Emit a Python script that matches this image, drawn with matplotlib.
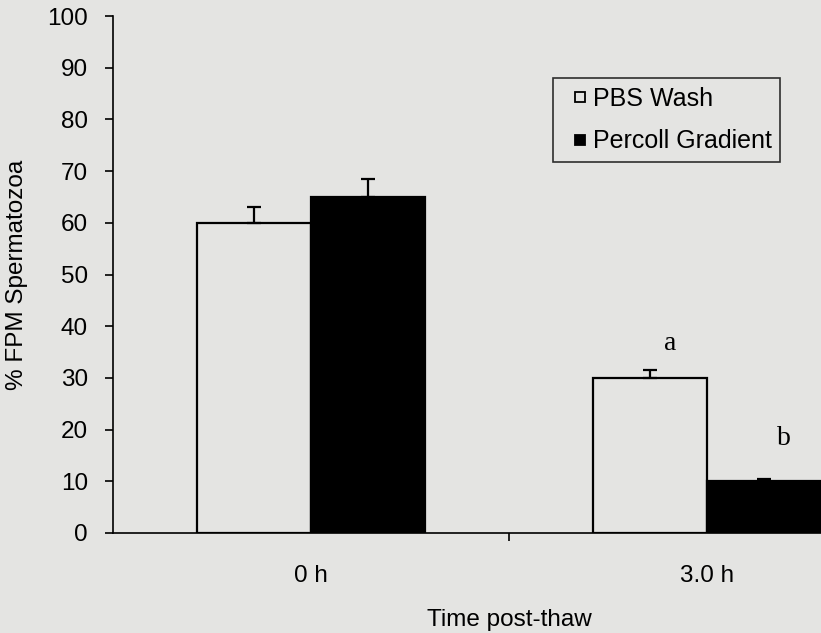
import matplotlib.pyplot as plt
from matplotlib.lines import Line2D
import numpy as np

# data
groups = ['0 h', '3.0 h']
series = ['PBS Wash', 'Percoll Gradient']
pbs_vals = [60, 30]
pbs_err = [3.0, 1.5]
percoll_vals = [65, 10]
percoll_err = [3.5, 0.5]
sig_labels = ['a', 'b']
y_ticks = [0, 10, 20, 30, 40, 50, 60, 70, 80, 90, 100]

bg = '#e4e4e2'
plt.rcParams['font.family'] = ['Liberation Sans', 'DejaVu Sans']

fig = plt.figure(figsize=(8.21, 6.33), dpi=100, facecolor=bg)
# axes runs past the right edge, the original figure is cropped there
ax = fig.add_axes([0.1376, 0.158, 0.9647, 0.8167], facecolor=bg)

x = np.arange(len(groups))
w = 0.288

ax.bar(x - w / 2, pbs_vals, w, color=bg, edgecolor='black', linewidth=1.6, zorder=2)
ax.bar(x + w / 2, percoll_vals, w, color='black', edgecolor='black', linewidth=1.6, zorder=2)

# upper error bars only
ax.errorbar(x - w / 2, pbs_vals, yerr=[np.zeros(2), pbs_err], fmt='none',
            ecolor='black', elinewidth=1.6, capsize=4.7, capthick=1.6, zorder=3)
ax.errorbar(x + w / 2, percoll_vals, yerr=[np.zeros(2), percoll_err], fmt='none',
            ecolor='black', elinewidth=1.6, capsize=4.7, capthick=1.6, zorder=3)

# significance letters over the 3.0 h bars
ax.text(x[1] - w / 2 + 0.05, pbs_vals[1] + 6.7, sig_labels[0], family='Liberation Serif',
        fontsize=20, ha='center', va='center')
ax.text(x[1] + w / 2 + 0.05, percoll_vals[1] + 8.2, sig_labels[1], family='Liberation Serif',
        fontsize=20, ha='center', va='center')

ax.set_xlim(-0.5, 1.5)
ax.set_ylim(0, 100)
ax.set_yticks(y_ticks)
ax.set_xticks(x)
ax.set_xticklabels(groups)
ax.set_xticks([0.5, 1.5], minor=True)

ax.tick_params(axis='y', direction='out', length=6, width=1.2, labelsize=17.5, pad=12)
ax.tick_params(axis='x', which='major', length=0, labelsize=17.5, pad=23)
ax.tick_params(axis='x', which='minor', direction='out', length=6, width=1.2)

ax.set_xlabel('Time post-thaw', fontsize=17.5, labelpad=16)
ax.set_ylabel('% FPM Spermatozoa', fontsize=17.5, labelpad=14)

for s in ['top', 'right']:
    ax.spines[s].set_visible(False)
for s in ['left', 'bottom']:
    ax.spines[s].set_linewidth(1.2)

handles = [Line2D([], [], marker='s', linestyle='none', markersize=7.5,
                  markerfacecolor=bg, markeredgecolor='black', markeredgewidth=1.3),
           Line2D([], [], marker='s', linestyle='none', markersize=7.5,
                  markerfacecolor='black', markeredgecolor='black', markeredgewidth=1.3)]
leg = ax.legend(handles, series, loc='upper left', bbox_to_anchor=(553 / 821, 1 - 78 / 633),
                bbox_transform=fig.transFigure, fontsize=18, frameon=True, fancybox=False,
                handlelength=1.44, handletextpad=-0.2, labelspacing=0.75,
                borderpad=0.35, borderaxespad=0)
leg.get_frame().set_edgecolor('black')
leg.get_frame().set_linewidth(1.2)
leg.get_frame().set_facecolor(bg)

fig.savefig('out.png', dpi=100, facecolor=bg)
